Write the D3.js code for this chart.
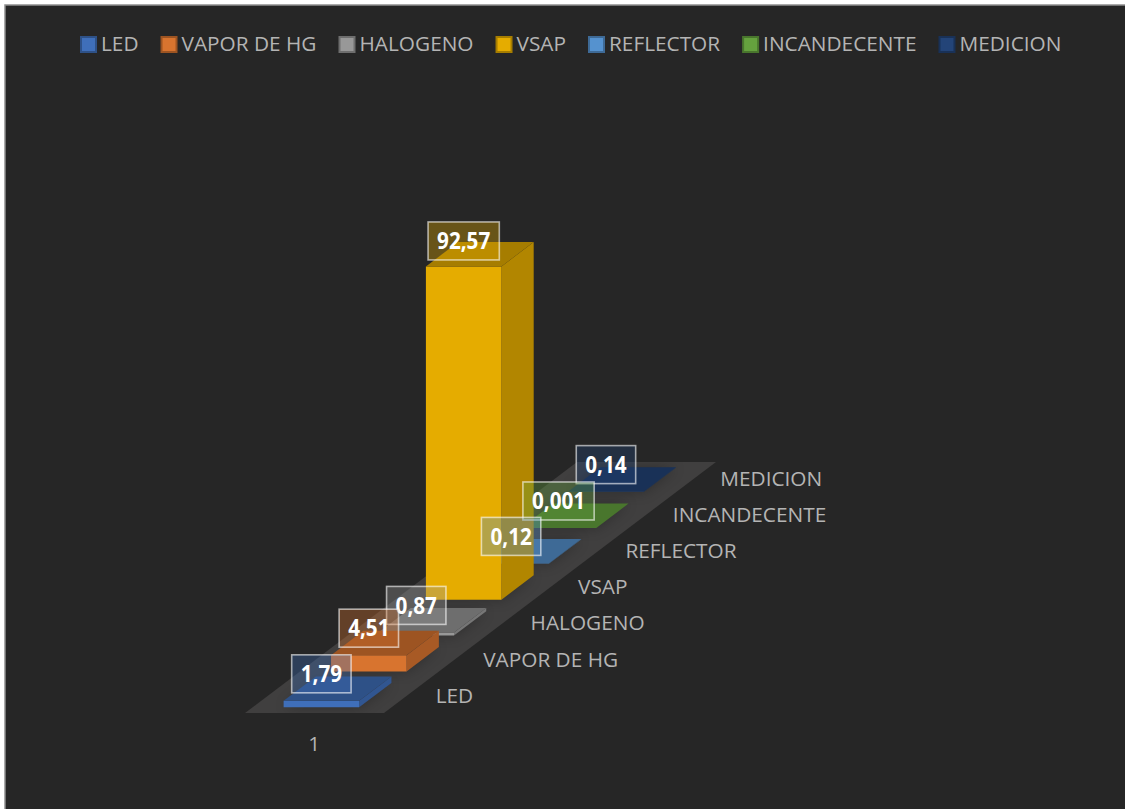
<!DOCTYPE html>
<html>
<head>
<meta charset="utf-8">
<script src="https://cdn.jsdelivr.net/npm/d3@7"></script>
<style>
html,body{margin:0;padding:0;background:#fff;overflow:hidden}
svg{display:block}
text{font-family:"Open Sans",sans-serif}
</style>
</head>
<body>
<svg id="chart" width="1125" height="809"></svg>
<script>
const categories = ["1"];
const seriesNames = ["LED","VAPOR DE HG","HALOGENO","VSAP","REFLECTOR","INCANDECENTE","MEDICION"];
const seriesValues = [1.79,4.51,0.87,92.57,0.12,0.001,0.14];
const seriesColors = ["#3f6fba","#d8742f","#989898","#e5ac00","#5592cf","#65a23e","#234478"];

const svg = d3.select("#chart");
const bg = "#262626", axisText = "#b4b4b4", labelSize = 20.8;

svg.append("rect").attr("x",5).attr("y",5).attr("width",1125).attr("height",809)
  .attr("fill",bg).attr("stroke","#8f8f8f").attr("stroke-width",1.5);

// Oblique projection of the 3D plot box
const origin = {x:245,y:713}, across = 139, depth = {x:332,y:251};
const uScale = d3.scaleBand().domain(categories).range([-0.005,0.995]).paddingInner(0).paddingOuter(0.42);
const vScale = d3.scaleBand().domain(seriesNames).range([0,1]).paddingInner(0.32).paddingOuter(0.16);
const hScale = d3.scaleLinear().domain([0,100]).range([0,360]);
const project = (u,v,h=0)=>[origin.x+u*across+v*depth.x, origin.y-v*depth.y-hScale(h)];
const poly = pts => pts.map(p=>p.join(",")).join(" ");

// Floor
const floorPts = [project(0,0),project(1,0),project(1,1),project(0,1)];
const defs = svg.append("defs");
defs.append("clipPath").attr("id","floorClip").append("polygon").attr("points",poly(floorPts));
const blur = defs.append("filter").attr("id","blur").attr("x","-50%").attr("y","-50%").attr("width","200%").attr("height","200%");
blur.append("feGaussianBlur").attr("stdDeviation",7);
svg.append("polygon").attr("points",poly(floorPts)).attr("fill","#403f3f");

const rows = seriesNames.map((name,i)=>({name,value:seriesValues[i],color:seriesColors[i]}));
const u0 = uScale("1"), u1 = u0+uScale.bandwidth();
const geom = d=>{
  const v0 = vScale(d.name), v1 = v0+vScale.bandwidth();
  return {
    front:[project(u0,v0,0),project(u1,v0,0),project(u1,v0,d.value),project(u0,v0,d.value)],
    side:[project(u1,v0,0),project(u1,v1,0),project(u1,v1,d.value),project(u1,v0,d.value)],
    top:[project(u0,v0,d.value),project(u1,v0,d.value),project(u1,v1,d.value),project(u0,v1,d.value)],
    foot:[project(u0,v0,0),project(u1,v0,0),project(u1,v1,0),project(u0,v1,0)],
    anchor:project((u0+u1)/2,v0,d.value)
  };
};

// Soft shadows on the floor
svg.append("g").attr("clip-path","url(#floorClip)").selectAll("polygon").data(rows).join("polygon")
  .attr("points",d=>poly(geom(d).foot)).attr("fill","#000").attr("opacity",.28).attr("filter","url(#blur)");

// Bars, back to front
const barG = svg.append("g").selectAll("g").data(rows.slice().reverse()).join("g");
barG.append("polygon").attr("points",d=>poly(geom(d).side))
  .attr("fill",d=>d3.color(d.color).darker(.7).formatHex());
barG.append("polygon").attr("points",d=>poly(geom(d).front)).attr("fill",d=>d.color);
barG.append("polygon").attr("points",d=>poly(geom(d).top))
  .attr("fill",d=>d3.color(d.color).darker(.9).formatHex());

// Value labels
const fmt = v => String(v).replace(".",",");
const textScaleX = 0.9;
const labelG = svg.append("g").selectAll("g").data(rows.slice().reverse()).join("g")
  .attr("transform",d=>{const a=geom(d).anchor;return `translate(${a[0]},${a[1]-(d.value>50?25.5:27)})`;});
const boxes = labelG.append("rect")
  .attr("y",-19).attr("height",38)
  .attr("fill",d=>d.color).attr("fill-opacity",.35)
  .attr("stroke","#fff").attr("stroke-opacity",.6).attr("stroke-width",1.6);
const valueText = labelG.append("text").attr("text-anchor","middle").attr("dy","0.36em")
  .attr("transform",`scale(${textScaleX},1)`)
  .attr("font-size",23).attr("font-weight",700).attr("fill","#fff").text(d=>fmt(d.value));
valueText.each(function(d){d.tw=this.getComputedTextLength()*textScaleX;});
boxes.attr("x",d=>-(d.tw+18)/2).attr("width",d=>d.tw+18);

// Depth axis labels
const labelAt = d=>{
  const v = vScale(d)+vScale.bandwidth()/2, p = project(1,v);
  return [p[0]+28, p[1]+8-2.5*v];
};
svg.append("g").selectAll("text").data(seriesNames).join("text")
  .attr("x",d=>labelAt(d)[0]).attr("y",d=>labelAt(d)[1])
  .attr("font-size",labelSize).attr("fill",axisText).text(d=>d);

// Category axis label
svg.append("g").selectAll("text").data(categories).join("text")
  .attr("x",d=>project(uScale(d)+uScale.bandwidth()/2,0)[0]+0.5)
  .attr("y",origin.y+38).attr("text-anchor","middle")
  .attr("font-size",labelSize).attr("fill",axisText).text(d=>d);

// Legend
const legend = svg.append("g");
let lx = 81;
rows.forEach(d=>{
  legend.append("rect").attr("x",lx).attr("y",37).attr("width",15).attr("height",15)
    .attr("fill",d.color).attr("stroke",d3.color(d.color).darker(.9).formatHex()).attr("stroke-width",2);
  const t = legend.append("text").attr("x",lx+20).attr("y",51).attr("font-size",labelSize)
    .attr("fill",axisText).text(d.name);
  lx += 20 + t.node().getComputedTextLength() + 23;
});
</script>
</body>
</html>
